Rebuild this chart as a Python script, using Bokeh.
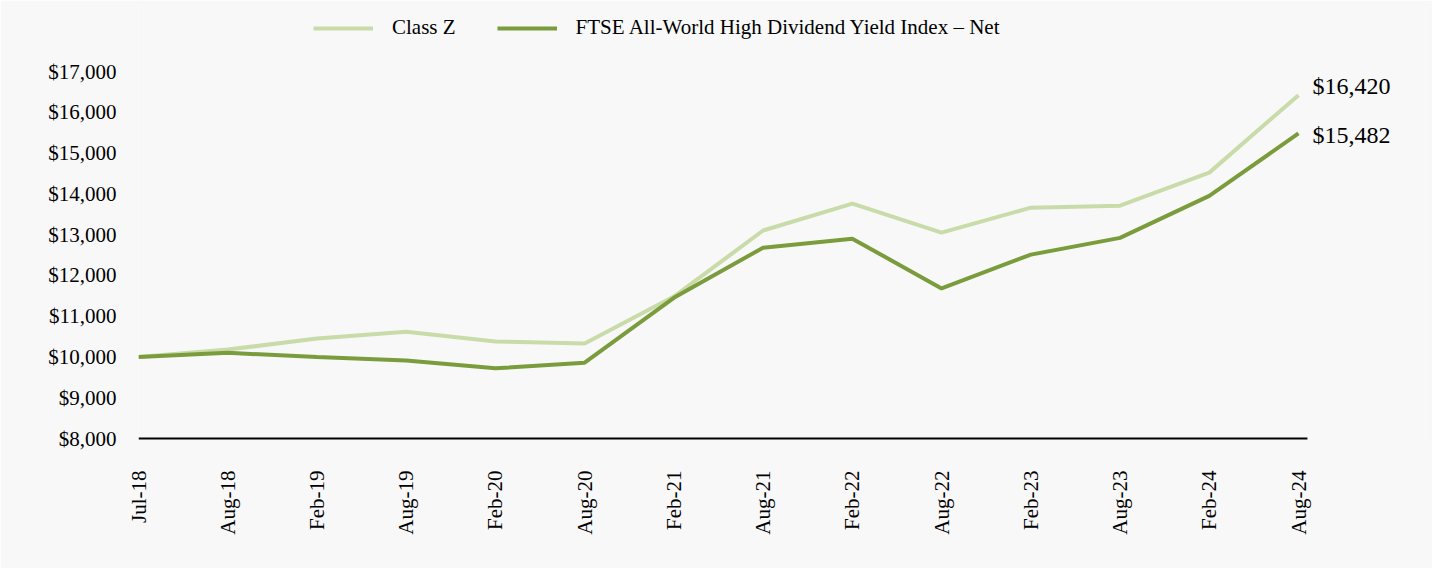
import math
from bokeh.plotting import figure
from bokeh.models import Legend, LegendItem, FixedTicker, Label, Range1d, NumeralTickFormatter
from bokeh.embed import file_html
from bokeh.resources import INLINE

categories = ["Jul-18", "Aug-18", "Feb-19", "Aug-19", "Feb-20", "Aug-20", "Feb-21",
              "Aug-21", "Feb-22", "Aug-22", "Feb-23", "Aug-23", "Feb-24", "Aug-24"]
class_z = [10000, 10180, 10450, 10620, 10380, 10330, 11480,
           13100, 13760, 13050, 13660, 13710, 14520, 16420]
index_net = [10000, 10100, 10000, 9910, 9720, 9860, 11450,
             12680, 12900, 11680, 12510, 12920, 13950, 15482]
y_ticks = [8000, 9000, 10000, 11000, 12000, 13000, 14000, 15000, 16000, 17000]
series_names = ["Class Z", "FTSE All-World High Dividend Yield Index \u2013 Net"]
end_labels = ["$16,420", "$15,482"]

FONT = "Liberation Serif"
BG = "#f8f8f8"
LIGHT = "#c9dba9"
DARK = "#7a9c3c"

xs = list(range(len(categories)))

# layout (pixels)
W, H = 1432, 568
LEFT, RIGHT, TOP, BOTTOM = 138, 7, 5, 128
x_px = 1160 / 13.0          # pixels per category step
y_px = 367 / 9000.0         # pixels per dollar
frame_w = W - LEFT - RIGHT
frame_h = H - TOP - BOTTOM
y0 = y_ticks[0] - 2 / y_px
y1 = y0 + frame_h / y_px
x1 = frame_w / x_px

p = figure(width=W, height=H, output_backend="svg", toolbar_location=None,
           x_range=Range1d(0, x1), y_range=Range1d(y0, y1),
           min_border_left=LEFT, min_border_right=RIGHT, min_border_top=TOP, min_border_bottom=BOTTOM,
           background_fill_color=BG, border_fill_color=BG, outline_line_color=None)

r1 = p.line(xs, class_z, line_color=LIGHT, line_width=4)
r2 = p.line(xs, index_net, line_color=DARK, line_width=4)

# baseline at $8,000
p.segment(x0=[0], y0=[y_ticks[0]], x1=[len(categories) - 1 + 0.1], y1=[y_ticks[0]],
          line_color="black", line_width=2)

p.xgrid.visible = False
p.ygrid.visible = False

p.xaxis.ticker = FixedTicker(ticks=xs)
p.xaxis.major_label_overrides = {i: c for i, c in enumerate(categories)}
p.xaxis.major_label_orientation = math.pi / 2
p.xaxis.major_tick_line_color = None
p.xaxis.minor_tick_line_color = None
p.xaxis.axis_line_color = None
p.xaxis.major_label_standoff = 24
p.xaxis.major_label_text_font = FONT
p.xaxis.major_label_text_font_size = "21px"
p.xaxis.major_label_text_color = "black"

p.yaxis.ticker = FixedTicker(ticks=y_ticks)
p.yaxis.formatter = NumeralTickFormatter(format="$0,0")
p.yaxis.axis_line_color = None
p.yaxis.major_tick_line_color = None
p.yaxis.minor_tick_line_color = None
p.yaxis.major_label_standoff = 16
p.yaxis.major_label_text_font = FONT
p.yaxis.major_label_text_font_size = "21px"
p.yaxis.major_label_text_color = "black"

legend = Legend(items=[LegendItem(label=series_names[0], renderers=[r1]),
                       LegendItem(label=series_names[1], renderers=[r2])],
                orientation="horizontal", location=(175, 440 - 40.3),
                background_fill_alpha=0, border_line_color=None,
                label_text_font=FONT, label_text_font_size="21px", label_text_color="black",
                glyph_width=60, glyph_height=24, label_standoff=19, spacing=41,
                padding=0, margin=0)
p.add_layout(legend, "center")

for val, txt, yoff in [(class_z[-1], end_labels[0], 9), (index_net[-1], end_labels[1], -2)]:
    p.add_layout(Label(x=xs[-1], y=val, text=txt, x_offset=14, y_offset=yoff,
                       text_font=FONT, text_font_size="24px", text_baseline="middle",
                       text_color="black"))

open("out.html", "w").write(file_html(p, INLINE))
